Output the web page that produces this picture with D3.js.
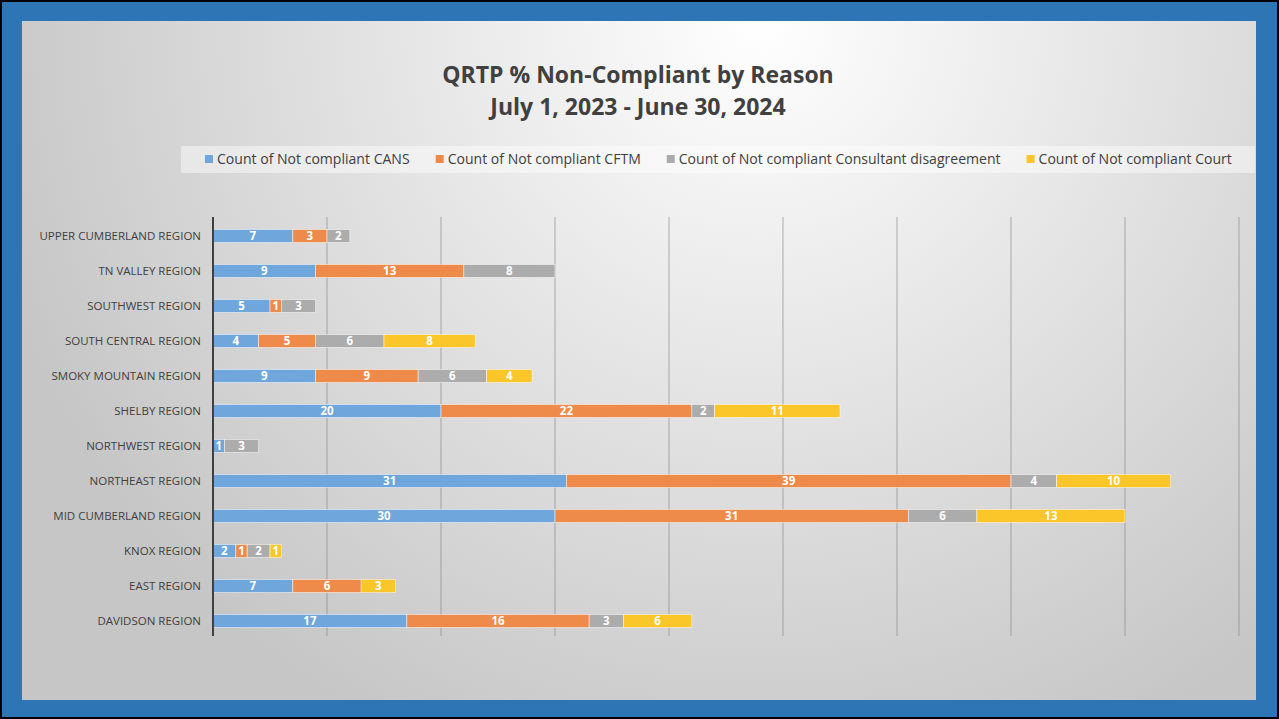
<!DOCTYPE html>
<html>
<head>
<meta charset="utf-8">
<script src="https://cdnjs.cloudflare.com/ajax/libs/d3/7.8.5/d3.min.js"></script>
<style>
  html, body { margin: 0; padding: 0; background: #000; }
  svg { display: block; }
</style>
</head>
<body>
<svg id="chart"></svg>
<script>
// data
const regions = [
    "UPPER CUMBERLAND REGION", "TN VALLEY REGION", "SOUTHWEST REGION",
    "SOUTH CENTRAL REGION", "SMOKY MOUNTAIN REGION", "SHELBY REGION",
    "NORTHWEST REGION", "NORTHEAST REGION", "MID CUMBERLAND REGION",
    "KNOX REGION", "EAST REGION", "DAVIDSON REGION"
];
const seriesNames = [
    "Count of Not compliant CANS",
    "Count of Not compliant CFTM",
    "Count of Not compliant Consultant disagreement",
    "Count of Not compliant Court"
];
const cansValues = [7, 9, 5, 4, 9, 20, 1, 31, 30, 2, 7, 17];
const cftmValues = [3, 13, 1, 5, 9, 22, 0, 39, 31, 1, 6, 16];
const consultantValues = [2, 8, 3, 6, 6, 2, 3, 4, 6, 2, 0, 3];
const courtValues = [0, 0, 0, 8, 4, 11, 0, 10, 13, 1, 3, 6];
const xTicks = [0, 10, 20, 30, 40, 50, 60, 70, 80, 90];
const seriesColors = ["#6fa6db", "#ee8b4a", "#acacac", "#fbc62a"];

// layout
const W = 1279, H = 719;
const panel = {x: 22, y: 21, w: 1234, h: 679};
const margin = {top: 218.5, left: 213, right: 40, bottom: 80.5};

const svg = d3.select('#chart')
    .attr('width', W)
    .attr('height', H);

// frame
svg.append('rect').attr('width', W).attr('height', H).attr('fill', '#000');
svg.append('rect').attr('x', 2).attr('y', 2).attr('width', W - 4).attr('height', H - 4)
    .attr('fill', '#2e75b6');

const defs = svg.append('defs');
const grad = defs.append('radialGradient')
    .attr('id', 'bg')
    .attr('gradientUnits', 'userSpaceOnUse')
    .attr('cx', 760).attr('cy', 20).attr('r', 800);
grad.append('stop').attr('offset', '0%').attr('stop-color', '#ffffff');
grad.append('stop').attr('offset', '100%').attr('stop-color', '#c6c6c6');

svg.append('rect')
    .attr('x', panel.x).attr('y', panel.y)
    .attr('width', panel.w).attr('height', panel.h)
    .attr('fill', 'url(#bg)');

// title
const title = svg.append('text')
    .attr('text-anchor', 'middle')
    .attr('font-family', 'Open Sans, sans-serif')
    .attr('font-weight', 'bold')
    .attr('font-size', 23)
    .attr('fill', '#404040');
title.append('tspan').attr('x', 638).attr('y', 83).text("QRTP % Non-Compliant by Reason");
title.append('tspan').attr('x', 638).attr('y', 115).text("July 1, 2023 - June 30, 2024");

// legend
svg.append('rect')
    .attr('x', 181).attr('y', 146)
    .attr('width', 1074).attr('height', 27)
    .attr('fill', '#ffffff').attr('fill-opacity', 0.45);

const legend = svg.append('g').attr('font-family', 'Open Sans, sans-serif')
    .attr('font-size', 14.05).attr('fill', '#404040');
let lx = 205;
seriesNames.forEach(function(name, i) {
    legend.append('rect')
        .attr('x', lx).attr('y', 155)
        .attr('width', 8).attr('height', 8)
        .attr('fill', seriesColors[i]);
    const t = legend.append('text')
        .attr('x', lx + 12).attr('y', 164)
        .text(name);
    lx += 12 + t.node().getComputedTextLength() + 26;
});

// scales
const x = d3.scaleLinear()
    .domain([0, 90])
    .range([margin.left, W - margin.right]);

const y = d3.scaleBand()
    .domain(regions)
    .range([margin.top, H - margin.bottom])
    .paddingInner(0.63)
    .paddingOuter(0.315);

// gridlines
svg.append('g')
    .selectAll('line')
    .data(xTicks.slice(1))
    .enter()
    .append('line')
    .attr('x1', d => x(d)).attr('x2', d => x(d))
    .attr('y1', 217).attr('y2', 636)
    .attr('stroke', '#808080')
    .attr('stroke-opacity', 0.5)
    .attr('stroke-width', 1.2);

// stacked bars
const table = regions.map(function(r, i) {
    return {
        region: r,
        s0: cansValues[i],
        s1: cftmValues[i],
        s2: consultantValues[i],
        s3: courtValues[i]
    };
});
const stack = d3.stack().keys(["s0", "s1", "s2", "s3"]);
const stacked = stack(table);

const layers = svg.append('g')
    .selectAll('g')
    .data(stacked)
    .enter()
    .append('g')
    .attr('fill', (d, i) => seriesColors[i]);

layers.selectAll('rect')
    .data(d => d.filter(p => p[1] - p[0] > 0))
    .enter()
    .append('rect')
    .attr('x', d => x(d[0]))
    .attr('y', d => y(d.data.region))
    .attr('width', d => x(d[1]) - x(d[0]))
    .attr('height', y.bandwidth())
    .attr('stroke', '#ffffff')
    .attr('stroke-opacity', 0.6)
    .attr('stroke-width', 0.8);

layers.selectAll('text')
    .data(d => d.filter(p => p[1] - p[0] > 0))
    .enter()
    .append('text')
    .attr('x', d => (x(d[0]) + x(d[1])) / 2)
    .attr('y', d => y(d.data.region) + y.bandwidth() / 2)
    .attr('dy', '0.36em')
    .attr('text-anchor', 'middle')
    .attr('font-family', 'Open Sans, sans-serif')
    .attr('font-weight', 'bold')
    .attr('font-size', 11.5)
    .attr('fill', '#ffffff')
    .text(d => d[1] - d[0]);

// y axis
const yAxis = svg.append('g')
    .attr('transform', 'translate(' + margin.left + ',0)')
    .call(d3.axisLeft(y).tickSize(0).tickPadding(12));
yAxis.select('.domain')
    .attr('d', 'M0,217V636')
    .attr('stroke', '#404040')
    .attr('stroke-width', 2);
yAxis.selectAll('text')
    .attr('font-family', 'Open Sans, sans-serif')
    .attr('font-size', 11.5)
    .attr('fill', '#404040');
</script>
</body>
</html>
